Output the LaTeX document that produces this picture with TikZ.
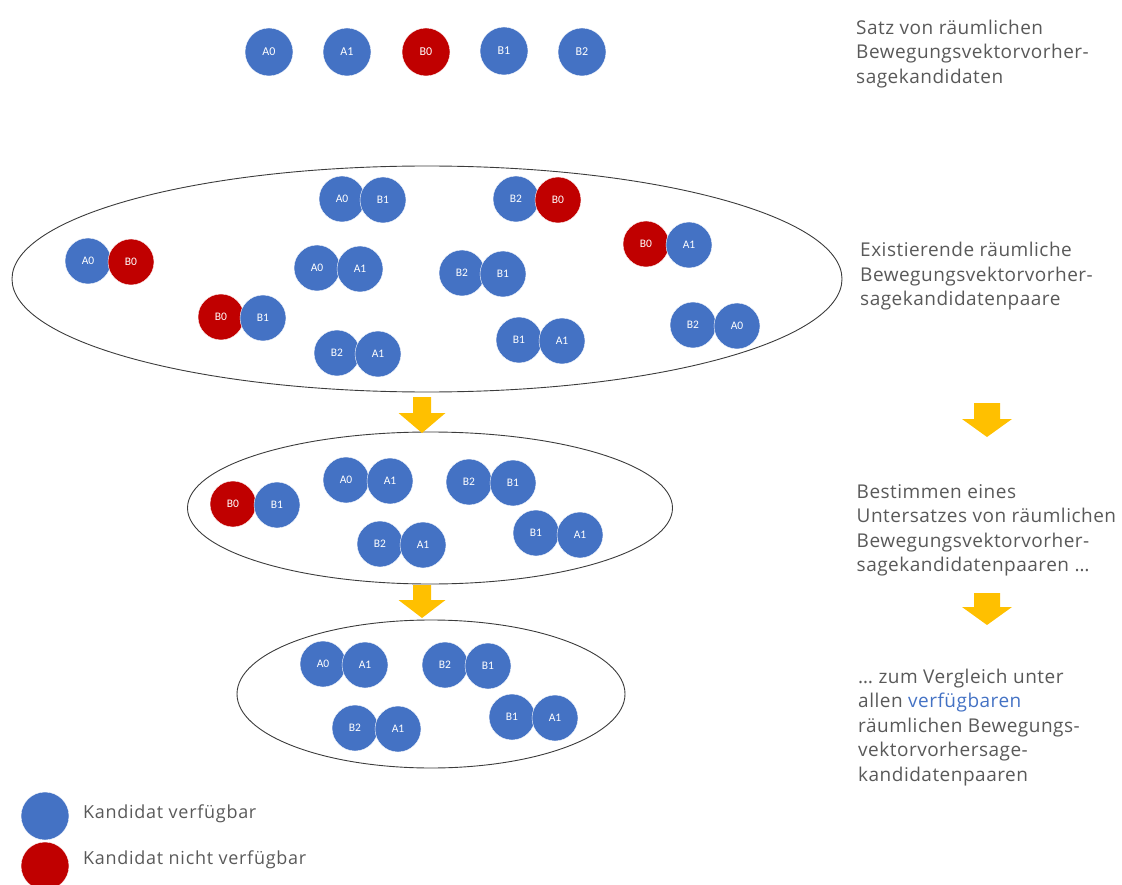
\documentclass[tikz,border=0pt]{standalone}
\usepackage{fontspec}
\setmainfont{Open Sans}
\newfontfamily\capfont[LetterSpace=2.6]{Open Sans}
\newfontfamily\legfont[LetterSpace=4]{Open Sans}
\newfontfamily\lblfont{Carlito}
\usetikzlibrary{shapes.geometric}
\definecolor{cblue}{HTML}{4472C4}
\definecolor{cred}{HTML}{C00000}
\definecolor{cgold}{HTML}{FFC000}
\definecolor{txtgray}{HTML}{595959}
\definecolor{ringgray}{HTML}{3C3C3C}
% downward block arrow: centre x, top y, head start y, tip y, shaft half width, head half width
\newcommand\blockdown[6]{%
  \fill[flow] (#1-#5,#2) -- (#1+#5,#2) -- (#1+#5,#3) -- (#1+#6,#3) -- (#1,#4)
    -- (#1-#6,#3) -- (#1-#5,#3) -- cycle;}
\begin{document}
\begin{tikzpicture}[x=1pt,y=-1pt,
  cand/.style={circle, minimum size=46pt, inner sep=0pt, text=white,
    font=\lblfont\fontsize{11.5}{12}\selectfont, draw=white, line width=0.4pt},
  big/.style={minimum size=48pt, font=\lblfont\fontsize{12}{12}\selectfont},
  avail/.style={cand, fill=cblue},
  unavail/.style={cand, fill=cred},
  group/.style={ellipse, draw=ringgray, line width=0.9pt, inner sep=0pt},
  caption/.style={anchor=base west, inner sep=0pt, text=txtgray,
    font=\capfont\fontsize{19}{24.5}\selectfont},
  legendtext/.style={anchor=base west, inner sep=0pt, text=txtgray,
    font=\legfont\fontsize{18}{22}\selectfont},
  flow/.style={fill=cgold}
]
\useasboundingbox (0,0) rectangle (1122,885);

% ---- full set of spatial candidates
\node[avail,big]   (sA0) at (269,52) {A0};
\node[avail,big]   (sA1) at (347,52) {A1};
\node[unavail,big] (sB0) at (426,52) {B0};
\node[avail,big]   (sB1) at (504,51) {B1};
\node[avail,big]   (sB2) at (582,52) {B2};

% ---- all existing pairs
\node[group, minimum width=830pt, minimum height=226pt] (all) at (427,279) {};
\node[avail]   (p1a) at (88,261)  {A0};  \node[unavail] (p1b) at (131,262) {B0};
\node[avail]   (p2a) at (342,199) {A0};  \node[avail]   (p2b) at (383,200) {B1};
\node[avail]   (p3a) at (516,199) {B2};  \node[unavail] (p3b) at (558,200) {B0};
\node[unavail] (p4a) at (646,244) {B0};  \node[avail]   (p4b) at (689,245) {A1};
\node[avail]   (p5a) at (317,268) {A0};  \node[avail]   (p5b) at (360,269) {A1};
\node[avail]   (p6a) at (462,273) {B2};  \node[avail]   (p6b) at (503,274) {B1};
\node[unavail] (p7a) at (221,317) {B0};  \node[avail]   (p7b) at (263,318) {B1};
\node[avail]   (p8a) at (693,325) {B2};  \node[avail]   (p8b) at (737,326) {A0};
\node[avail]   (p9a) at (337,353) {B2};  \node[avail]   (p9b) at (378,354) {A1};
\node[avail]   (p10a) at (519,340) {B1}; \node[avail]   (p10b) at (562,341) {A1};

% ---- selected subset
\node[group, minimum width=485pt, minimum height=152pt] (sub) at (430,508) {};
\node[unavail] (q1a) at (233,504) {B0}; \node[avail] (q1b) at (277,505) {B1};
\node[avail]   (q2a) at (346,480) {A0}; \node[avail] (q2b) at (390,481) {A1};
\node[avail]   (q3a) at (469,482) {B2}; \node[avail] (q3b) at (513,483) {B1};
\node[avail]   (q4a) at (380,544) {B2}; \node[avail] (q4b) at (423,545) {A1};
\node[avail]   (q5a) at (536,533) {B1}; \node[avail] (q5b) at (580,535) {A1};

% ---- available pairs only
\node[group, minimum width=388pt, minimum height=148pt] (avl) at (431,694) {};
\node[avail] (r1a) at (323,664) {A0}; \node[avail] (r1b) at (365,665) {A1};
\node[avail] (r2a) at (445,665) {B2}; \node[avail] (r2b) at (488,666) {B1};
\node[avail] (r3a) at (355,728) {B2}; \node[avail] (r3b) at (398,729) {A1};
\node[avail] (r4a) at (512,717) {B1}; \node[avail] (r4b) at (555,718) {A1};

% ---- flow arrows
\blockdown{422}{397}{413}{433}{9}{23.5}
\blockdown{422}{585}{600}{618}{9}{23.5}
\blockdown{987}{403}{419}{437}{13}{25}
\blockdown{987}{593}{607}{625}{13}{25}

% ---- captions
\node[caption] (c1) at (856,34.5) {\begin{tabular}[t]{@{}l@{}}Satz von räumlichen\\Bewegungsvektorvorher-\\sagekandidaten\end{tabular}};
\node[caption] (c2) at (860,257) {\begin{tabular}[t]{@{}l@{}}Existierende räumliche\\Bewegungsvektorvorher-\\sagekandidatenpaare\end{tabular}};
\node[caption] (c3) at (856.5,498) {\begin{tabular}[t]{@{}l@{}}Bestimmen eines\\Untersatzes von räumlichen\\Bewegungsvektorvorher-\\sagekandidatenpaaren …\end{tabular}};
\node[caption] (c4) at (858,683) {\begin{tabular}[t]{@{}l@{}}… zum Vergleich unter\\allen \textcolor{cblue}{verfügbaren}\\räumlichen Bewegungs-\\vektorvorhersage-\\kandidatenpaaren\end{tabular}};

% ---- legend
\node[avail,big]   (lg1) at (45,816) {};
\node[unavail,big] (lg2) at (45,866) {};
\node[legendtext] (lt1) at (83,818) {Kandidat verfügbar};
\node[legendtext] (lt2) at (83,864) {Kandidat nicht verfügbar};
\end{tikzpicture}
\end{document}
